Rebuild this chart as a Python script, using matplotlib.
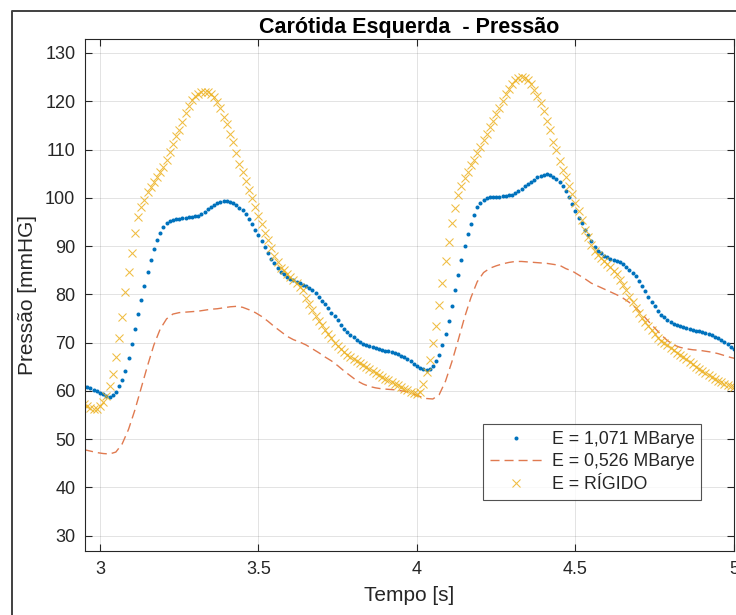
"""Carotid pressure waveforms for three wall stiffness values (MATLAB-style look)."""

import matplotlib
import numpy as np

matplotlib.use("Agg")
import matplotlib.pyplot as plt
from matplotlib.lines import Line2D

plt.rcParams["font.family"] = ["Liberation Sans", "DejaVu Sans"]

# time grid of the sampled series (s)
TIME = np.round(np.arange(2.95, 5.005, 0.01), 2)

# E = 1,071 MBarye (blue dots), one value per 0.01 s from 2.95 s
P_E1071 = [
    61.0, 60.8, 60.5, 60.2, 59.9, 59.6, 59.3, 59.0, 58.8, 59.1,
    59.8, 60.9, 62.3, 64.2, 66.8, 69.6, 72.8, 75.9, 78.9, 81.8,
    84.7, 87.1, 89.4, 91.3, 92.8, 94.0, 94.8, 95.2, 95.4, 95.5,
    95.6, 95.8, 95.9, 96.0, 96.1, 96.2, 96.3, 96.6, 97.1, 97.6,
    98.1, 98.5, 98.9, 99.2, 99.4, 99.4, 99.2, 98.9, 98.4, 97.9,
    97.4, 96.6, 95.7, 94.6, 93.4, 92.3, 91.0, 89.8, 88.6, 87.4,
    86.4, 85.5, 84.7, 84.1, 83.6, 83.2, 82.9, 82.6, 82.3, 82.0,
    81.7, 81.3, 80.8, 80.2, 79.5, 78.7, 77.9, 77.1, 76.2, 75.4,
    74.6, 73.7, 72.9, 72.2, 71.6, 71.1, 70.6, 70.1, 69.7, 69.4,
    69.2, 69.0, 68.9, 68.7, 68.5, 68.3, 68.2, 68.0, 67.8, 67.6,
    67.3, 67.0, 66.6, 66.1, 65.6, 65.2, 64.8, 64.5, 64.3, 64.6,
    65.2, 66.2, 67.5, 69.5, 71.8, 74.5, 77.6, 80.8, 84.0, 87.1,
    90.1, 92.4, 94.6, 96.4, 98.0, 98.9, 99.6, 100.0, 100.1, 100.2,
    100.2, 100.2, 100.3, 100.4, 100.5, 100.6, 101.0, 101.4, 101.9, 102.4,
    102.9, 103.3, 103.7, 104.2, 104.6, 104.8, 104.9, 104.7, 104.3, 103.8,
    103.3, 102.5, 101.4, 100.1, 98.7, 97.3, 95.8, 94.7, 93.4, 92.3,
    91.1, 89.9, 89.0, 88.5, 88.0, 87.7, 87.4, 87.1, 86.8, 86.6,
    86.2, 85.7, 85.1, 84.5, 83.7, 82.8, 81.8, 80.7, 79.5, 78.4,
    77.5, 76.6, 75.8, 75.2, 74.7, 74.3, 73.9, 73.6, 73.4, 73.2,
    73.0, 72.8, 72.6, 72.4, 72.3, 72.1, 71.9, 71.7, 71.5, 71.2,
    70.9, 70.5, 70.1, 69.6, 69.1, 68.7,
]

# E = rigid (yellow crosses), same time grid
P_RIGIDO = [
    57.2, 56.8, 56.5, 56.3, 56.3, 56.8, 57.7, 59.0, 60.9, 63.4,
    67.0, 71.0, 75.3, 80.5, 84.6, 88.5, 92.8, 96.0, 98.0, 99.5,
    101.1, 102.2, 103.2, 104.3, 105.4, 106.4, 107.9, 109.4, 111.2, 112.7,
    114.1, 115.7, 117.5, 119.0, 120.2, 121.0, 121.6, 121.9, 122.0, 122.0,
    121.5, 120.9, 119.8, 118.7, 116.8, 115.3, 113.2, 111.6, 109.2, 107.1,
    105.4, 103.4, 101.6, 99.9, 98.0, 96.3, 94.5, 92.8, 91.2, 89.5,
    88.0, 86.7, 85.5, 85.0, 84.3, 83.6, 83.0, 82.3, 81.6, 80.8,
    79.3, 78.0, 76.8, 75.5, 74.5, 73.6, 72.6, 71.7, 70.9, 70.0,
    69.3, 68.7, 68.1, 67.5, 67.1, 66.6, 66.1, 65.7, 65.3, 64.9,
    64.5, 64.1, 63.7, 63.2, 62.9, 62.5, 62.2, 61.8, 61.5, 61.1,
    60.8, 60.4, 60.1, 59.8, 59.5, 59.3, 59.8, 61.5, 63.8, 66.3,
    69.8, 73.5, 77.8, 82.3, 86.8, 90.8, 94.7, 97.9, 100.5, 102.5,
    104.1, 105.4, 106.8, 107.8, 109.2, 110.6, 112.0, 113.3, 114.6, 115.9,
    117.4, 118.7, 120.0, 121.4, 122.6, 123.6, 124.4, 124.9, 125.0, 124.9,
    124.4, 123.6, 122.4, 121.1, 119.7, 118.0, 116.0, 114.1, 111.6, 109.8,
    107.6, 105.8, 104.2, 102.5, 100.8, 99.0, 97.3, 95.4, 93.4, 91.8,
    90.2, 89.0, 88.2, 87.5, 86.9, 86.3, 85.6, 84.9, 84.1, 83.0,
    81.9, 80.8, 79.5, 78.3, 77.2, 76.1, 75.1, 74.2, 73.4, 72.6,
    71.7, 71.0, 70.3, 69.8, 69.4, 68.9, 68.4, 67.9, 67.4, 66.9,
    66.5, 66.0, 65.5, 65.0, 64.5, 64.0, 63.6, 63.2, 62.8, 62.4,
    62.1, 61.8, 61.4, 61.1, 60.9, 60.7,
]

# E = 0,526 MBarye (dashed line), read every 0.02 s from 2.95 s
TIME_E0526 = np.round(np.arange(2.95, 5.02, 0.02), 2)
P_E0526 = [
    47.8, 47.5, 47.2, 47.0, 46.9, 47.3, 49.0, 52.0, 56.0, 60.6,
    65.2, 69.5, 72.8, 74.9, 75.9, 76.2, 76.3, 76.4, 76.5, 76.7,
    76.9, 77.0, 77.2, 77.4, 77.5, 77.3, 76.8, 76.2, 75.4, 74.4,
    73.3, 72.3, 71.3, 70.6, 70.1, 69.5, 68.7, 67.9, 67.0, 66.2,
    65.2, 64.1, 63.1, 62.1, 61.4, 60.9, 60.6, 60.4, 60.3, 60.2,
    60.0, 59.8, 59.3, 58.8, 58.4, 58.3, 59.2, 62.0, 66.0, 70.5,
    75.2, 79.3, 82.6, 84.5, 85.4, 85.9, 86.3, 86.6, 86.8, 86.8,
    86.7, 86.6, 86.5, 86.4, 86.2, 86.0, 85.3, 84.8, 84.0, 83.2,
    82.3, 81.7, 81.1, 80.5, 79.9, 79.2, 78.3, 77.2, 75.9, 74.4,
    73.0, 71.6, 70.4, 69.5, 69.0, 68.7, 68.5, 68.4, 68.2, 68.0,
    67.7, 67.3, 66.9, 66.6,
]

X_TICKS = [3, 3.5, 4, 4.5, 5]
Y_TICKS = [30, 40, 50, 60, 70, 80, 90, 100, 110, 120, 130]

INK = "#262626"


def main() -> None:
    figure = plt.figure(figsize=(7.36, 6.15), dpi=100)
    axis = figure.add_axes([85 / 736, 64 / 615, 649 / 736, 512 / 615])

    axis.plot(TIME, P_E1071, linestyle="none", marker="o", markersize=2.9,
              markeredgewidth=0, color="#0072BD", label="E = 1,071 MBarye")
    axis.plot(TIME_E0526, P_E0526, linestyle=(0, (6.5, 3.6)), linewidth=1.0,
              color="#E07A50", label="E = 0,526 MBarye")
    axis.plot(TIME, P_RIGIDO, linestyle="none", marker="x", markersize=6,
              markeredgewidth=0.75, color="#EDB120", alpha=0.85,
              label="E = RÍGIDO")

    axis.set_xlim(2.9527, 5.0)
    axis.set_ylim(26.8, 132.9)
    axis.set_xticks(X_TICKS)
    axis.set_xticklabels(["3", "3.5", "4", "4.5", "5"])
    axis.set_yticks(Y_TICKS)
    axis.tick_params(direction="in", length=5, width=0.8, colors=INK,
                     labelsize=13, top=True, right=True, pad=7)
    for spine in axis.spines.values():
        spine.set_color(INK)
        spine.set_linewidth(0.8)
    axis.grid(color=INK, alpha=0.15, linewidth=0.6)

    axis.set_title("Carótida Esquerda  - Pressão", fontsize=15.5,
                   fontweight="bold", pad=4)
    axis.set_xlabel("Tempo [s]", fontsize=15, color=INK, labelpad=6)
    axis.set_ylabel("Pressão [mmHG]", fontsize=15, color=INK, labelpad=6)

    legend = axis.legend(loc="upper right", bbox_to_anchor=(0.9492, 0.248),
                         fontsize=12.8, frameon=True, fancybox=False,
                         handlelength=2.9, handletextpad=0.56,
                         labelspacing=0.32, borderpad=0.38, borderaxespad=0)
    legend.get_frame().set_edgecolor(INK)
    legend.get_frame().set_linewidth(0.8)
    for text in legend.get_texts():
        text.set_color(INK)

    # outer frame of the original MATLAB figure window
    figure.add_artist(Line2D([12.3 / 736, 12.3 / 736, 1.0],
                             [0.0, 1 - 10.7 / 615, 1 - 10.7 / 615],
                             transform=figure.transFigure,
                             color="#404040", linewidth=1.4))

    figure.savefig("out.png", dpi=100)
    plt.close(figure)


if __name__ == "__main__":
    main()
